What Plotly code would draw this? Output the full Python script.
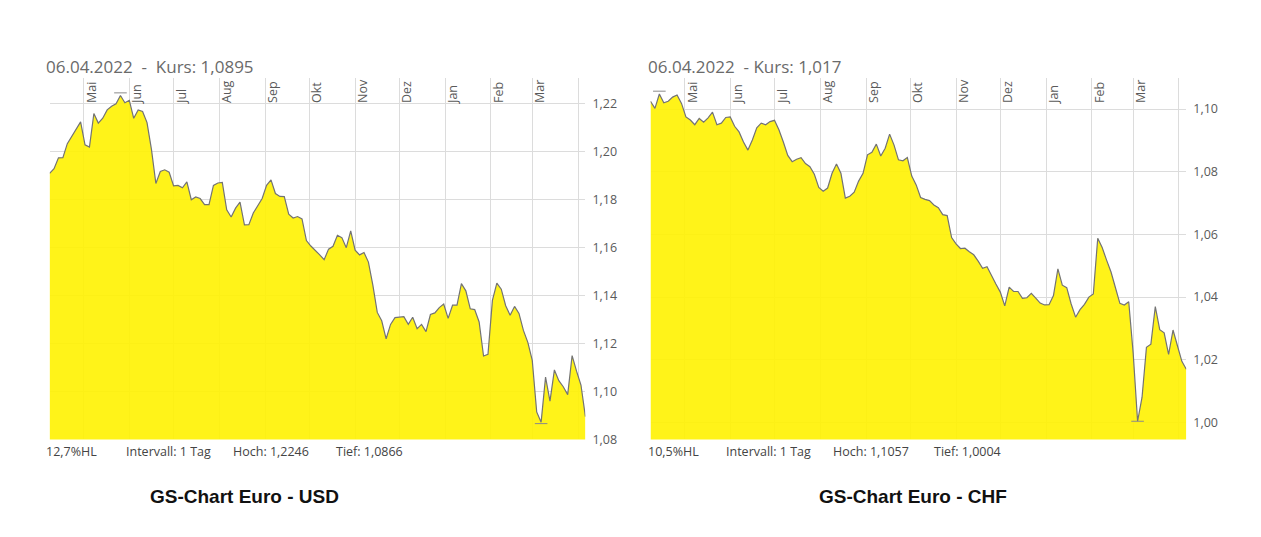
import pandas as pd
import plotly.graph_objects as go

usd_kurs = [1.1910, 1.1930, 1.1975, 1.1976, 1.2034, 1.2065, 1.2090, 1.2125, 1.2029, 1.2020,
            1.2160, 1.2120, 1.2140, 1.2175, 1.2190, 1.2200, 1.2235, 1.2205, 1.2215, 1.2140,
            1.2175, 1.2168, 1.2122, 1.2010, 1.1868, 1.1918, 1.1925, 1.1915, 1.1858, 1.1860,
            1.1850, 1.1875, 1.1800, 1.1812, 1.1805, 1.1780, 1.1780, 1.1860, 1.1870, 1.1872,
            1.1758, 1.1728, 1.1765, 1.1790, 1.1695, 1.1696, 1.1745, 1.1775, 1.1805, 1.1860,
            1.1883, 1.1826, 1.1814, 1.1813, 1.1740, 1.1724, 1.1730, 1.1720, 1.1630, 1.1607,
            1.1590, 1.1570, 1.1550, 1.1594, 1.1606, 1.1652, 1.1642, 1.1600, 1.1670, 1.1590,
            1.1570, 1.1580, 1.1540, 1.1444, 1.1330, 1.1295, 1.1220, 1.1280, 1.1308, 1.1311,
            1.1312, 1.1280, 1.1310, 1.1262, 1.1280, 1.1250, 1.1321, 1.1328, 1.1350, 1.1365,
            1.1305, 1.1360, 1.1360, 1.1450, 1.1420, 1.1345, 1.1342, 1.1290, 1.1148, 1.1155,
            1.1380, 1.1452, 1.1427, 1.1358, 1.1318, 1.1355, 1.1326, 1.1255, 1.1205, 1.1130,
            1.0915, 1.0872, 1.1060, 1.0960, 1.1090, 1.1045, 1.1020, 1.0987, 1.1150, 1.1085,
            1.1027, 1.0895]

chf_kurs = [1.1025, 1.1002, 1.1048, 1.1020, 1.1025, 1.1038, 1.1045, 1.1018, 1.0975, 1.0965,
            1.0950, 1.0970, 1.0958, 1.0972, 1.0990, 1.0950, 1.0955, 1.0973, 1.0975, 1.0945,
            1.0927, 1.0895, 1.0869, 1.0901, 1.0940, 1.0955, 1.0950, 1.0960, 1.0964, 1.0934,
            1.0895, 1.0852, 1.0832, 1.0840, 1.0845, 1.0826, 1.0816, 1.0792, 1.0750, 1.0738,
            1.0748, 1.0795, 1.0825, 1.0795, 1.0716, 1.0722, 1.0735, 1.0770, 1.0795, 1.0854,
            1.0862, 1.0888, 1.0850, 1.0875, 1.0920, 1.0885, 1.0838, 1.0835, 1.0845, 1.0786,
            1.0758, 1.0718, 1.0712, 1.0708, 1.0694, 1.0685, 1.0663, 1.0660, 1.0590, 1.0570,
            1.0555, 1.0556, 1.0545, 1.0535, 1.0515, 1.0492, 1.0497, 1.0468, 1.0442, 1.0416,
            1.0372, 1.0432, 1.0418, 1.0418, 1.0396, 1.0398, 1.0412, 1.0397, 1.0381, 1.0375,
            1.0376, 1.0405, 1.0490, 1.0438, 1.0430, 1.0378, 1.0336, 1.0360, 1.0377, 1.0400,
            1.0410, 1.0588, 1.0558, 1.0518, 1.0480, 1.0430, 1.0380, 1.0375, 1.0385, 1.0222,
            1.0004, 1.0080, 1.0240, 1.0250, 1.0370, 1.0296, 1.0286, 1.0217, 1.0295, 1.0245,
            1.0195, 1.0170]

end_datum = "2022-04-06"
monate = ["Mai", "Jun", "Jul", "Aug", "Sep", "Okt", "Nov", "Dez", "Jan", "Feb", "Mar", ""]

usd_ticks = [1.08, 1.10, 1.12, 1.14, 1.16, 1.18, 1.20, 1.22]
chf_ticks = [1.00, 1.02, 1.04, 1.06, 1.08, 1.10]

usd_titel = "06.04.2022  -  Kurs: 1,0895"
chf_titel = "06.04.2022  - Kurs: 1,017"
usd_info = ["12,7%HL", "Intervall: 1 Tag", "Hoch: 1,2246", "Tief: 1,0866"]
chf_info = ["10,5%HL", "Intervall: 1 Tag", "Hoch: 1,1057", "Tief: 1,0004"]
usd_hoch, usd_tief = 1.2246, 1.0866
chf_hoch, chf_tief = 1.1057, 1.0004
usd_name = "GS-Chart Euro - USD"
chf_name = "GS-Chart Euro - CHF"
# }

# page is 1261x537, body has an 8px margin -> figure a bit smaller
RAND = 8
W, H = 1241, 515
SY = 0.986  # vertical squeeze seen in the screenshot
GELB = "rgba(255,242,0,0.9)"
LINIE = "#737373"
GRID = "#dcdcdc"
SCHRIFT = "Open Sans"

usd_datum = pd.date_range(end=end_datum, periods=len(usd_kurs), freq="3D")
chf_datum = pd.date_range(end=end_datum, periods=len(chf_kurs), freq="3D")
monatsanfang = pd.date_range("2021-05-01", periods=len(monate), freq="MS")


def px_x(p):
    return (p - RAND) / W


def px_y(p):
    return 1 - (p / SY - RAND) / H


fig = go.Figure()


def chart(datum, kurs, hoch, tief, xa, ya, xm):
    fig.add_trace(go.Scatter(x=datum, y=kurs, mode="lines", fill="tozeroy",
                             fillcolor=GELB, line=dict(color=LINIE, width=1.2),
                             xaxis=xa, yaxis=ya, showlegend=False, hoverinfo="skip"))
    # Hoch / Tief Markierung
    s = pd.Series(kurs, index=datum)
    fig.add_trace(go.Scatter(x=[s.idxmax(), s.idxmin()], y=[hoch, tief], mode="markers",
                             marker=dict(symbol="line-ew-open", size=9, color="#8a8a8a",
                                         line=dict(color="#8a8a8a", width=1)),
                             xaxis=xa, yaxis=ya, showlegend=False, hoverinfo="skip"))
    # unsichtbarer Trace, damit die Monatsachse gezeichnet wird
    fig.add_trace(go.Scatter(x=[datum[0]], y=[kurs[0]], mode="markers",
                             marker=dict(opacity=0), xaxis=xm, yaxis=ya,
                             showlegend=False, hoverinfo="skip"))


chart(usd_datum, usd_kurs, usd_hoch, usd_tief, "x", "y", "x3")
chart(chf_datum, chf_kurs, chf_hoch, chf_tief, "x2", "y2", "x4")

y_dom = [px_y(440), px_y(78)]


def x_achse(dom, datum, anchor):
    return dict(domain=dom, anchor=anchor, type="date", side="top",
                range=[datum[0], datum[-1]], tickvals=monatsanfang,
                showticklabels=False, ticks="", showgrid=True, gridcolor=GRID,
                gridwidth=1, showline=False, zeroline=False)


def monat_achse(datum, over):
    return dict(overlaying=over, anchor="free", position=px_y(103), side="top",
                type="date", range=[datum[0], datum[-1]], tickvals=monatsanfang,
                ticktext=monate, tickangle=-90, ticklabelshift=8, ticks="",
                showgrid=False, showline=False, zeroline=False,
                tickfont=dict(family=SCHRIFT, size=12.5, color="#5a5a5a"))


def y_achse(rng, ticks, anchor):
    return dict(domain=y_dom, anchor=anchor, side="right", range=rng,
                tickvals=ticks, tickformat=".2f", ticks="", showgrid=True,
                gridcolor=GRID, gridwidth=1, zeroline=False, showline=False,
                ticklabelstandoff=6,
                tickfont=dict(family=SCHRIFT, size=12.5, color="#5a5a5a"))


fig.update_layout(
    width=W, height=H, autosize=False,
    margin=dict(l=0, r=0, t=0, b=0),
    paper_bgcolor="white", plot_bgcolor="white",
    separators=",.",
    xaxis=x_achse([px_x(49.6), px_x(585.4)], usd_datum, "y"),
    yaxis=y_achse([1.08, 1.2308], usd_ticks, "x"),
    xaxis2=x_achse([px_x(650.5), px_x(1186.3)], chf_datum, "y2"),
    yaxis2=y_achse([0.9946, 1.1099], chf_ticks, "x2"),
    xaxis3=monat_achse(usd_datum, "x"),
    xaxis4=monat_achse(chf_datum, "x2"),
)

anm = []
for x0, titel in [(44, usd_titel), (646, chf_titel)]:
    anm.append(dict(text=titel, xref="paper", yref="paper", x=px_x(x0), y=px_y(66),
                    xanchor="left", yanchor="middle", showarrow=False,
                    font=dict(family=SCHRIFT, size=17, color="#6a6a6a")))

for xs, info in [([44, 124, 231, 334], usd_info), ([646, 724, 831, 932], chf_info)]:
    for x0, t in zip(xs, info):
        anm.append(dict(text=t, xref="paper", yref="paper", x=px_x(x0), y=px_y(452),
                        xanchor="left", yanchor="middle", showarrow=False,
                        font=dict(family=SCHRIFT, size=12.5, color="#444444")))

for xc, name in [(245, usd_name), (913, chf_name)]:
    anm.append(dict(text="<b>" + name + "</b>", xref="paper", yref="paper",
                    x=px_x(xc), y=px_y(497), xanchor="center", yanchor="middle",
                    showarrow=False,
                    font=dict(family="Liberation Sans", size=19, color="#111111")))

fig.update_layout(annotations=anm)

fig.write_html("out.html")
